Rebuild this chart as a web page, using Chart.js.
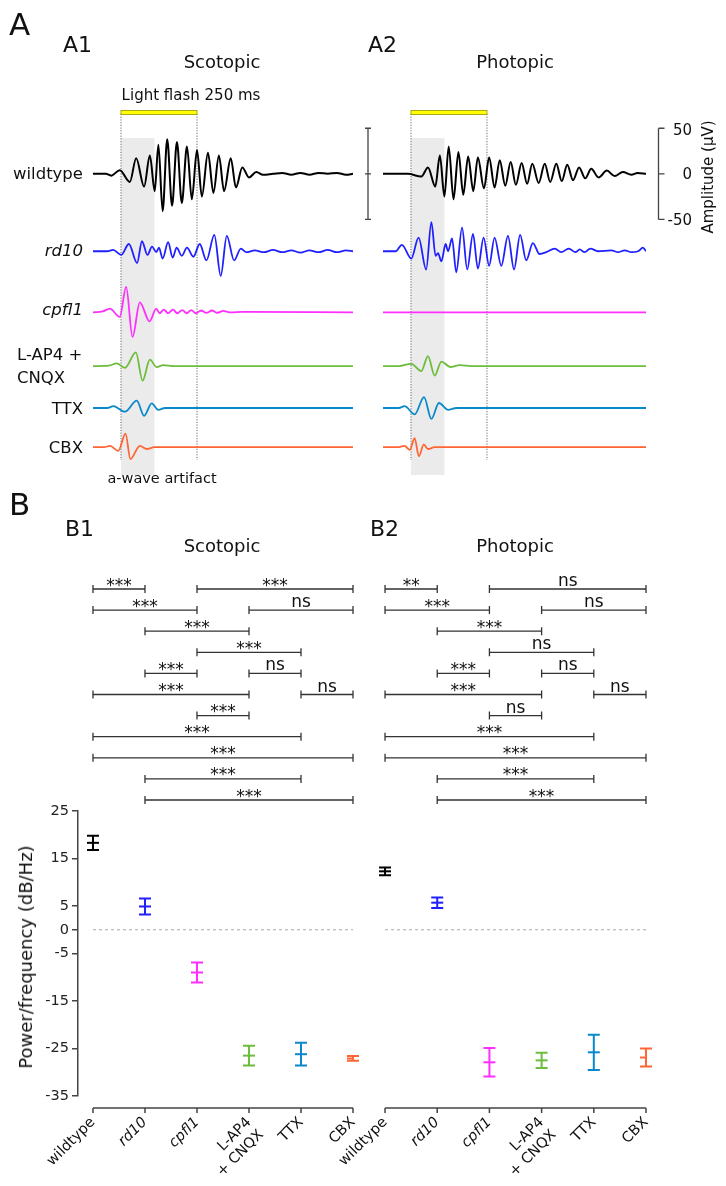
<!DOCTYPE html>
<html>
<head>
<meta charset="utf-8">
<script src="https://cdn.jsdelivr.net/npm/chart.js@4.4.1/dist/chart.umd.min.js"></script>
<style>
    body { margin: 0; background: #fff; }
    #page { position: relative; width: 726px; height: 1186px; overflow: hidden; font-family: "DejaVu Sans", sans-serif; color: #111; }
    canvas { position: absolute; left: 0; top: 0; }
    .t { position: absolute; white-space: nowrap; line-height: 1; }
</style>
</head>
<body>
<div id="page">
    <canvas id="a1" width="726" height="1186"></canvas>
    <canvas id="a2" width="726" height="1186"></canvas>
    <canvas id="b1" width="726" height="1186"></canvas>
    <canvas id="b2" width="726" height="1186"></canvas>
</div>
<script>
// ---- data ----
// ERG traces: [time (ms from flash onset), amplitude (µV)], peaks and troughs
const scotopicWildtype = [[-92,0],[-50,0],[-32,-2],[-4,4],[29,-9],[50,17],[76,-14],[95,20],[111,-19],[123,32],[137,-41],[152,38],[168,-35],[184,35],[200,-32],[217,30],[233,-28],[250,26],[266,-25],[286,23],[304,-21],[322,20],[339,-19],[361,17],[378,-15],[399,7],[421,-4],[445,2],[467,-1],[500,0],[530,1],[560,-1],[590,1],[620,-1],[650,1],[680,0],[710,1],[740,-1],[763,0]];
const scotopicRd10 = [[-92,0],[-45,0],[-26,1.5],[1,-4],[26,8],[53,-13],[69,11],[87,-4],[102,5],[116,-1],[125,4],[137,-8],[155,10],[170,-7],[183,4],[200,-5],[217,4],[238,-6],[259,8],[281,-10],[307,18],[328,-27],[348,17],[372,-10],[394,3],[412,-1],[440,1],[470,-1],[500,1.5],[530,-1],[560,1],[590,-1.5],[620,1],[650,-1],[680,1.5],[710,-1],[740,1],[763,0]];
const scotopicCpfl1 = [[-92,0],[-60,1],[-37,4],[-4,-5],[17,28],[38,-27],[62,11],[94,-10],[116,4],[127,-1],[141,3],[155,-1],[171,3],[185,-1],[202,2.5],[216,-1],[231,2.5],[246,-1],[264,2],[281,-0.5],[299,2],[317,-0.5],[336,1.5],[358,0],[400,0.5],[763,0]];
const scotopicLap4 = [[-92,0],[-40,0.5],[-14,3],[13,-2],[49,15],[71,-16],[95,7],[117,-1],[139,1],[170,0],[763,0]];
const scotopicTtx = [[-92,0],[-45,0],[-25,2],[13,-4],[52,8],[76,-8.5],[101,5],[123,-2],[145,0],[763,0]];
const scotopicCbx = [[-92,0],[-55,0],[-36,1.5],[-9,-4],[15,15],[31,-13],[62,1.5],[85,-2],[110,0],[763,0]];

const photopicWildtype = [[-92,0],[-40,0],[-10,0],[34,-3],[56,7],[80,-14],[95,20],[110,-25],[124,30],[140,-28],[156,24],[172,-23],[188,19],[205,-19],[220,18],[240,-16],[257,18],[275,-15],[292,15],[310,-13],[328,13],[345,-12],[364,12],[382,-11],[399,11],[420,-10],[440,11],[458,-9],[478,11],[496,-8],[514,10],[533,-7],[553,7],[573,-5],[593,5.5],[617,-4],[644,3.5],[670,-2.5],[697,2],[725,-1],[745,1],[773,0]];
const photopicRd10 = [[-92,0],[-50,0],[-30,7],[1,-8],[25,15],[50,-20],[67,32],[81,-5],[89,-2],[100,-11],[114,8],[122,0],[135,14],[149,-23],[168,26],[185,-20],[204,19],[220,-19],[239,15],[257,-16],[275,15],[297,-16],[319,17],[339,-20],[359,18],[379,-10],[401,9],[423,-3],[445,-1],[473,3],[494,-1],[519,3],[541,-1],[555,2],[571,-1],[590,3],[615,0],[659,1],[681,-1],[703,1],[725,-1],[747,0],[763,4],[773,0]];
const photopicCpfl1 = [[-92,0],[200,0],[500,0],[773,0]];
const photopicLap4 = [[-92,0],[-40,0],[1,2.5],[34,-5.5],[56,11],[78,-10.5],[100,5],[129,-1],[160,1],[200,0],[773,0]];
const photopicTtx = [[-92,0],[-40,0],[-21,2],[12,-7],[43,12],[67,-12],[92,5.5],[122,-2],[149,0],[773,0]];
const photopicCbx = [[-92,0],[-45,0],[-21,1.5],[-4,-3],[12,10],[26,-10],[42,3],[56,-2],[78,0],[773,0]];

// power/frequency summary (dB/Hz): mean and error
const categories = ['wildtype', 'rd10', 'cpfl1', ['L-AP4', '+ CNQX'], 'TTX', 'CBX'];
const italicCategories = [1, 2];
const scotopicMean = [18.3, 4.9, -9.0, -26.5, -26.2, -27.1];
const scotopicErr = [1.5, 1.7, 2.1, 2.1, 2.4, 0.5];
const photopicMean = [12.3, 5.7, -27.9, -27.5, -25.8, -26.9];
const photopicErr = [0.8, 1.1, 3.0, 1.6, 3.7, 1.9];
const yTicks = [25, 15, 5, 0, -5, -15, -25, -35];

// significance: [row, from, to, label]
const scotopicSig = [[0,0,1,'***'],[0,2,5,'***'],[1,0,2,'***'],[1,3,5,'ns'],[2,1,3,'***'],[3,2,4,'***'],[4,1,2,'***'],[4,3,4,'ns'],[5,0,3,'***'],[5,4,5,'ns'],[6,2,3,'***'],[7,0,4,'***'],[8,0,5,'***'],[9,1,4,'***'],[10,1,5,'***']];
const photopicSig = [[0,0,1,'**'],[0,2,5,'ns'],[1,0,2,'***'],[1,3,5,'ns'],[2,1,3,'***'],[3,2,4,'ns'],[4,1,2,'***'],[4,3,4,'ns'],[5,0,3,'***'],[5,4,5,'ns'],[6,2,3,'ns'],[7,0,4,'***'],[8,0,5,'***'],[9,1,4,'***'],[10,1,5,'***']];

// ---- layout / style ----
const colors = ['#000000', '#2020ff', '#ff2eff', '#6cbd3c', '#0a88cc', '#ff6633'];
const traceOffsets = [0, -85, -152, -211, -257, -300];   // µV shift of each trace row
const ampMin = -336, ampMax = 81;
const flashMs = 250, artifactMs = 110;
const sigTop = 589, sigStep = 21.1;
const FONT = '"DejaVu Sans", sans-serif';

// Grey artifact band, flash bar, dotted markers and amplitude scale bars
const tracePanel = {
    id: 'tracePanel',
    beforeDatasetsDraw(chart, args, opts) {
        const ctx = chart.ctx, x = chart.scales.x, y = chart.scales.y;
        const x0 = x.getPixelForValue(0), xa = x.getPixelForValue(artifactMs), xf = x.getPixelForValue(flashMs);
        ctx.save();
        ctx.fillStyle = '#ebebeb';
        ctx.fillRect(x0, 138, xa - x0, 337);
        ctx.strokeStyle = '#666';
        ctx.lineWidth = 1;
        ctx.setLineDash([1.2, 1.5]);
        [x0, xf].forEach(function(px) {
            ctx.beginPath(); ctx.moveTo(px, 114); ctx.lineTo(px, 460); ctx.stroke();
        });
        ctx.setLineDash([]);
        ctx.fillStyle = '#ffff00';
        ctx.fillRect(x0, 110.5, xf - x0, 4);
        ctx.strokeStyle = '#9a9400';
        ctx.lineWidth = 0.8;
        ctx.strokeRect(x0, 110.5, xf - x0, 4);

        // scale bar, ±50 µV on the wildtype row
        const yt = y.getPixelForValue(50), ym = y.getPixelForValue(0), yb = y.getPixelForValue(-50);
        ctx.strokeStyle = '#444';
        ctx.lineWidth = 1.3;
        ctx.beginPath();
        if (opts.bar === 'left') {
            const bx = 368;
            ctx.moveTo(bx, yt); ctx.lineTo(bx, yb);
            [yt, ym, yb].forEach(function(py) { ctx.moveTo(bx - 3, py); ctx.lineTo(bx + 3, py); });
        } else {
            const bx = 658.5;
            ctx.moveTo(bx, yt); ctx.lineTo(bx, yb);
            [yt, ym, yb].forEach(function(py) { ctx.moveTo(bx, py); ctx.lineTo(bx + 6, py); });
        }
        ctx.stroke();
        ctx.restore();
    }
};

function traceChart(id, traces, tMax, padLeft, padRight, bar) {
    return new Chart(document.getElementById(id), {
        type: 'line',
        data: {
            datasets: traces.map(function(tr, i) {
                return {
                    data: tr.map(function(p) { return {x: p[0], y: p[1] + traceOffsets[i]}; }),
                    borderColor: colors[i],
                    borderWidth: i === 0 ? 2 : 1.8,
                    pointRadius: 0,
                    tension: 0.4,
                    cubicInterpolationMode: 'monotone'
                };
            })
        },
        options: {
            responsive: false,
            animation: false,
            events: [],
            layout: { padding: { left: padLeft, right: padRight, top: 100, bottom: 706 } },
            plugins: { legend: { display: false }, tooltip: { enabled: false }, tracePanel: { bar: bar } },
            scales: {
                x: { type: 'linear', display: false, min: -92, max: tMax },
                y: { type: 'linear', display: false, min: ampMin, max: ampMax }
            }
        },
        plugins: [tracePanel]
    });
}

traceChart('a1', [scotopicWildtype, scotopicRd10, scotopicCpfl1, scotopicLap4, scotopicTtx, scotopicCbx], 763, 93, 373, 'left');
traceChart('a2', [photopicWildtype, photopicRd10, photopicCpfl1, photopicLap4, photopicTtx, photopicCbx], 773, 383, 80, 'right');

// Error bars, x baseline and significance brackets
const summaryPlugin = {
    id: 'summaryPlugin',
    afterDatasetsDraw(chart, args, opts) {
        const ctx = chart.ctx, x = chart.scales.x, y = chart.scales.y;
        ctx.save();
        ctx.lineWidth = 2;
        opts.means.forEach(function(m, i) {
            const px = x.getPixelForValue(i);
            const top = y.getPixelForValue(m + opts.errs[i]), bot = y.getPixelForValue(m - opts.errs[i]);
            ctx.strokeStyle = colors[i];
            ctx.beginPath();
            ctx.moveTo(px, top); ctx.lineTo(px, bot);
            ctx.moveTo(px - 6, top); ctx.lineTo(px + 6, top);
            ctx.moveTo(px - 6, bot); ctx.lineTo(px + 6, bot);
            ctx.stroke();
        });

        // category axis line, a little below the plot
        const ay = chart.chartArea.bottom + 12;
        ctx.strokeStyle = '#444';
        ctx.lineWidth = 1.5;
        ctx.beginPath();
        ctx.moveTo(x.getPixelForValue(0), ay);
        ctx.lineTo(x.getPixelForValue(categories.length - 1), ay);
        categories.forEach(function(c, i) {
            const px = x.getPixelForValue(i);
            ctx.moveTo(px, ay); ctx.lineTo(px, ay + 5);
        });
        ctx.stroke();

        ctx.strokeStyle = '#333';
        ctx.fillStyle = '#111';
        ctx.lineWidth = 1.3;
        ctx.font = '17px ' + FONT;
        ctx.textAlign = 'center';
        ctx.textBaseline = 'alphabetic';
        opts.sig.forEach(function(s) {
            const sy = sigTop + s[0] * sigStep;
            const x1 = x.getPixelForValue(s[1]), x2 = x.getPixelForValue(s[2]);
            ctx.beginPath();
            ctx.moveTo(x1, sy); ctx.lineTo(x2, sy);
            ctx.moveTo(x1, sy - 4); ctx.lineTo(x1, sy + 4);
            ctx.moveTo(x2, sy - 4); ctx.lineTo(x2, sy + 4);
            ctx.stroke();
            ctx.fillText(s[3], (x1 + x2) / 2, s[3] === 'ns' ? sy - 3 : sy + 1.5);
        });
        ctx.restore();
    }
};

function summaryChart(id, means, errs, sig, padLeft, padRight, showY) {
    return new Chart(document.getElementById(id), {
        type: 'scatter',
        data: {
            datasets: [
                {
                    type: 'line',
                    data: [{x: 0, y: 0}, {x: categories.length - 1, y: 0}],
                    borderColor: '#aaaaaa',
                    borderWidth: 1,
                    borderDash: [3, 3],
                    pointRadius: 0
                },
                {
                    data: means.map(function(m, i) { return {x: i, y: m}; }),
                    pointStyle: 'line',
                    pointRadius: 6,
                    pointBorderWidth: 2,
                    pointBorderColor: colors,
                    pointBackgroundColor: colors
                }
            ]
        },
        options: {
            responsive: false,
            animation: false,
            events: [],
            layout: { padding: { left: padLeft, right: padRight, top: 811, bottom: 5 } },
            plugins: {
                legend: { display: false },
                tooltip: { enabled: false },
                summaryPlugin: { means: means, errs: errs, sig: sig }
            },
            scales: {
                x: {
                    type: 'linear',
                    min: -0.288,
                    max: categories.length - 1,
                    border: { display: false },
                    grid: { display: false, drawTicks: false },
                    afterBuildTicks: function(scale) {
                        scale.ticks = categories.map(function(c, i) { return {value: i}; });
                    },
                    afterFit: function(scale) { scale.height = 85; },
                    ticks: {
                        autoSkip: false,
                        maxRotation: 45,
                        minRotation: 45,
                        padding: 18,
                        color: '#111',
                        callback: function(v) { return categories[v]; },
                        font: function(ctx) {
                            return { family: FONT, size: 14.5, style: italicCategories.includes(ctx.index) ? 'italic' : 'normal' };
                        }
                    }
                },
                y: {
                    type: 'linear',
                    display: showY,
                    min: -35,
                    max: 25,
                    afterBuildTicks: function(scale) {
                        scale.ticks = yTicks.map(function(v) { return {value: v}; });
                    },
                    afterFit: function(scale) { scale.width = showY ? 40 : 0; },
                    border: { color: '#444', width: 1.5 },
                    grid: { drawOnChartArea: false, drawTicks: true, tickLength: 6, color: '#444', lineWidth: 1.5 },
                    ticks: { padding: 3, color: '#222', font: { family: FONT, size: 14.5 } }
                }
            }
        },
        plugins: [summaryPlugin]
    });
}

summaryChart('b1', scotopicMean, scotopicErr, scotopicSig, 38, 373, true);
summaryChart('b2', photopicMean, photopicErr, photopicSig, 370, 80, false);

// ---- text labels ----
const page = document.getElementById('page');
function addText(text, x, baseline, size, align, style) {
    const d = document.createElement('div');
    d.className = 't';
    d.textContent = text;
    d.style.fontSize = size + 'px';
    d.style.left = x + 'px';
    d.style.top = (baseline - 0.846 * size) + 'px';
    if (align === 'center') d.style.transform = 'translateX(-50%)';
    if (align === 'right') d.style.transform = 'translateX(-100%)';
    if (style) d.style.cssText += style;
    page.appendChild(d);
}
function addRotated(text, cx, cy, size) {
    const d = document.createElement('div');
    d.className = 't';
    d.textContent = text;
    d.style.fontSize = size + 'px';
    d.style.left = cx + 'px';
    d.style.top = cy + 'px';
    d.style.transform = 'translate(-50%, -50%) rotate(-90deg)';
    page.appendChild(d);
}

addText('A', 9, 35, 31, 'left');
addText('A1', 63, 53, 22, 'left');
addText('Scotopic', 222, 68, 18, 'center');
addText('Light flash 250 ms', 191, 100.5, 15, 'center');
addText('A2', 368, 53, 22, 'left');
addText('Photopic', 515, 68, 18, 'center');

addText('wildtype', 83, 179.5, 16.5, 'right');
addText('rd10', 83, 257, 16.5, 'right', 'font-style:italic;');
addText('cpfl1', 83, 316, 16.5, 'right', 'font-style:italic;');
addText('L-AP4 +', 17, 361, 16.5, 'left');
addText('CNQX', 17, 384, 16.5, 'left');
addText('TTX', 83, 415, 16.5, 'right');
addText('CBX', 83, 454, 16.5, 'right');
addText('a-wave artifact', 162, 483, 14.5, 'center');

addText('50', 692, 135.5, 15, 'right');
addText('0', 692, 179.5, 15, 'right');
addText('-50', 692, 225.5, 15, 'right');
addRotated('Amplitude (µV)', 708, 177, 15);

addText('B', 9, 515, 31, 'left');
addText('B1', 65, 537, 22, 'left');
addText('Scotopic', 222, 552, 18, 'center');
addText('B2', 370, 537, 22, 'left');
addText('Photopic', 515, 552, 18, 'center');
addRotated('Power/frequency (dB/Hz)', 26, 957, 18);
</script>
</body>
</html>
